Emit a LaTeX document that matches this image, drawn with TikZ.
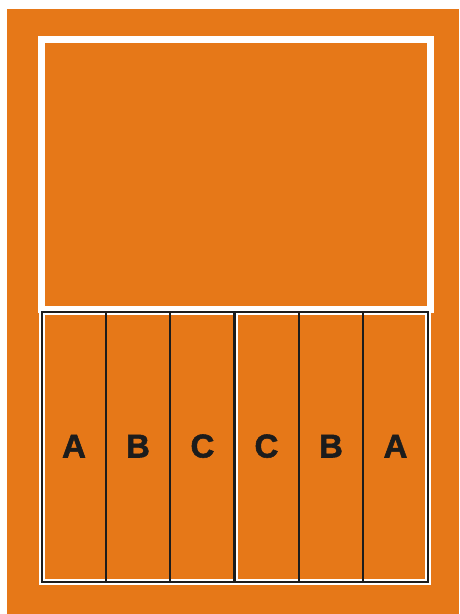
\documentclass[tikz,border=0pt]{standalone}
\usepackage{fontspec}
\setmainfont{Liberation Sans}
\newfontfamily\heavyfont[BoldFeatures={FakeBold=1.6}]{Liberation Sans}
\definecolor{bgorange}{RGB}{230,120,24}
\definecolor{inkdark}{RGB}{28,28,28}
\begin{document}
\begin{tikzpicture}[x=1pt,y=-1pt,
  frameline/.style={draw=white,line width=7pt},
  halo/.style={draw=white,line width=6.2pt},
  boxline/.style={draw=inkdark,line width=2.6pt},
  divline/.style={draw=inkdark,line width=2.5pt},
  letter/.style={font=\heavyfont\bfseries\fontsize{33}{33}\selectfont,text=inkdark,anchor=base,inner sep=0pt}]
\useasboundingbox (0,0) rectangle (459,614);
\fill[white] (0,0) rectangle (459,614);
\fill[bgorange] (7,9) rectangle (459,614);
% upper white frame
\draw[frameline] (41,39.5) rectangle (430,309.5);
\fill[bgorange] (45,43) rectangle (426,306);
% lower box
\draw[halo] (42,312) rectangle (428,582);
\fill[bgorange] (43.8,313.8) rectangle (426.2,580.2);
\draw[draw=white,line width=1.8pt] (44.2,314) rectangle (425.8,580);
\draw[boxline] (42,312) rectangle (428,582);
% dividers
\draw[draw=white,line width=1.8pt] (237.2,313) -- (237.2,581);
\foreach \xx in {106,170,234.3,299,363}{
  \draw[divline] (\xx,312) -- (\xx,582);
}
% letters
\node[letter] (l1) at (74,457.5) {A};
\node[letter] (l2) at (138,457.5) {B};
\node[letter] (l3) at (202.5,457.5) {C};
\node[letter] (l4) at (266.5,457.5) {C};
\node[letter] (l5) at (331,457.5) {B};
\node[letter] (l6) at (395.5,457.5) {A};
\end{tikzpicture}
\end{document}
